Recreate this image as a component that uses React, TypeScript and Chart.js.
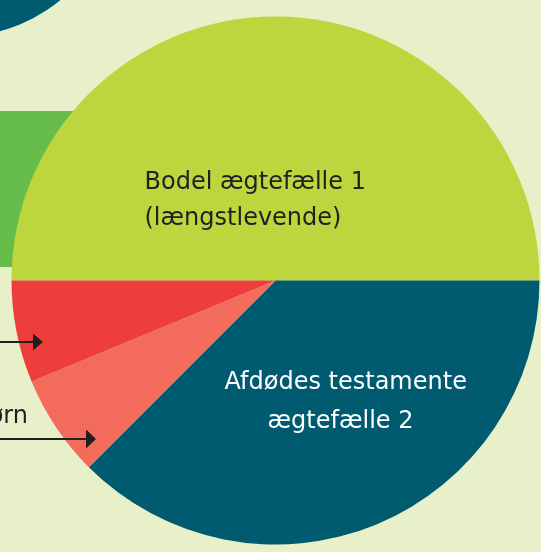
import React, { useEffect, useRef } from "react";
import { Chart, registerables } from "chart.js";

Chart.register(...registerables);

const categories = [
  "Bodel ægtefælle 1 (længstlevende)",
  "Afdødes testamente ægtefælle 2",
  "Tvangsarv børn",
  "Tvangsarv ægtefælle 1",
];
const shares = [50, 37.5, 6.25, 6.25];
const sliceColors = ["#bdd63d", "#005b71", "#f26b5b", "#ee3e3c"];

const bodelLines = ["Bodel ægtefælle 1", "(længstlevende)"];
const testamentLines = ["Afdødes testamente", "ægtefælle 2"];
const childLabel = "Tvangsarv børn";

const BG = "#e7f0c8";
const TEXT = "#231f20";
const FONT = '24px "DejaVu Sans", Verdana, sans-serif';

function arrow(ctx: CanvasRenderingContext2D, x0: number, x1: number, y: number, head: number, half: number) {
  ctx.save();
  ctx.strokeStyle = TEXT;
  ctx.fillStyle = TEXT;
  ctx.lineWidth = 2;
  ctx.beginPath();
  ctx.moveTo(x0, y);
  ctx.lineTo(x1 - head, y);
  ctx.stroke();
  ctx.beginPath();
  ctx.moveTo(x1, y);
  ctx.lineTo(x1 - head, y - half);
  ctx.lineTo(x1 - head, y + half);
  ctx.closePath();
  ctx.fill();
  ctx.restore();
}

const decor = {
  id: "decor",
  beforeDraw(chart: any) {
    const ctx = chart.ctx as CanvasRenderingContext2D;
    ctx.save();
    ctx.fillStyle = BG;
    ctx.fillRect(0, 0, chart.width, chart.height);
    ctx.fillStyle = "#005b71";
    ctx.beginPath();
    ctx.arc(-40, -120, 156.5, 0, Math.PI * 2);
    ctx.fill();
    ctx.fillStyle = "#67bd4a";
    ctx.fillRect(0, 111, 200, 156);
    ctx.restore();
  },
  afterDatasetsDraw(chart: any) {
    const ctx = chart.ctx as CanvasRenderingContext2D;
    const arc = chart.getDatasetMeta(0).data[0];
    const cx = arc.x;
    const cy = arc.y;
    ctx.save();
    ctx.font = FONT;
    ctx.textBaseline = "alphabetic";
    ctx.textAlign = "left";
    ctx.fillStyle = TEXT;
    ctx.fillText(bodelLines[0], cx - 131, cy - 92);
    ctx.fillText(bodelLines[1], cx - 131, cy - 56);
    ctx.fillStyle = "#ffffff";
    ctx.fillText(testamentLines[0], cx - 51, cy + 108);
    ctx.fillText(testamentLines[1], cx - 8, cy + 147);
    ctx.fillStyle = TEXT;
    ctx.textAlign = "right";
    ctx.fillText(childLabel, 28, 423);
    ctx.restore();
    arrow(ctx, 0, 43, 342, 10, 8.5);
    arrow(ctx, 0, 96, 439, 10, 9.5);
  },
};

export default function App() {
  const ref = useRef<HTMLCanvasElement>(null);
  useEffect(() => {
    if (!ref.current) return;
    const chart = new Chart(ref.current, {
      type: "pie",
      data: {
        labels: categories,
        datasets: [
          {
            data: shares,
            backgroundColor: sliceColors,
            borderWidth: 0,
          },
        ],
      },
      options: {
        responsive: false,
        animation: false,
        rotation: -90,
        layout: { padding: { left: 11.5, right: 1.5, top: 16.5, bottom: 7.5 } },
        plugins: { legend: { display: false }, tooltip: { enabled: false } },
      },
      plugins: [decor],
    });
    return () => chart.destroy();
  }, []);
  return (
    <div style={{ position: "fixed", left: 0, top: 0, width: 541, height: 552 }}>
      <canvas ref={ref} width={541} height={552} />
    </div>
  );
}
